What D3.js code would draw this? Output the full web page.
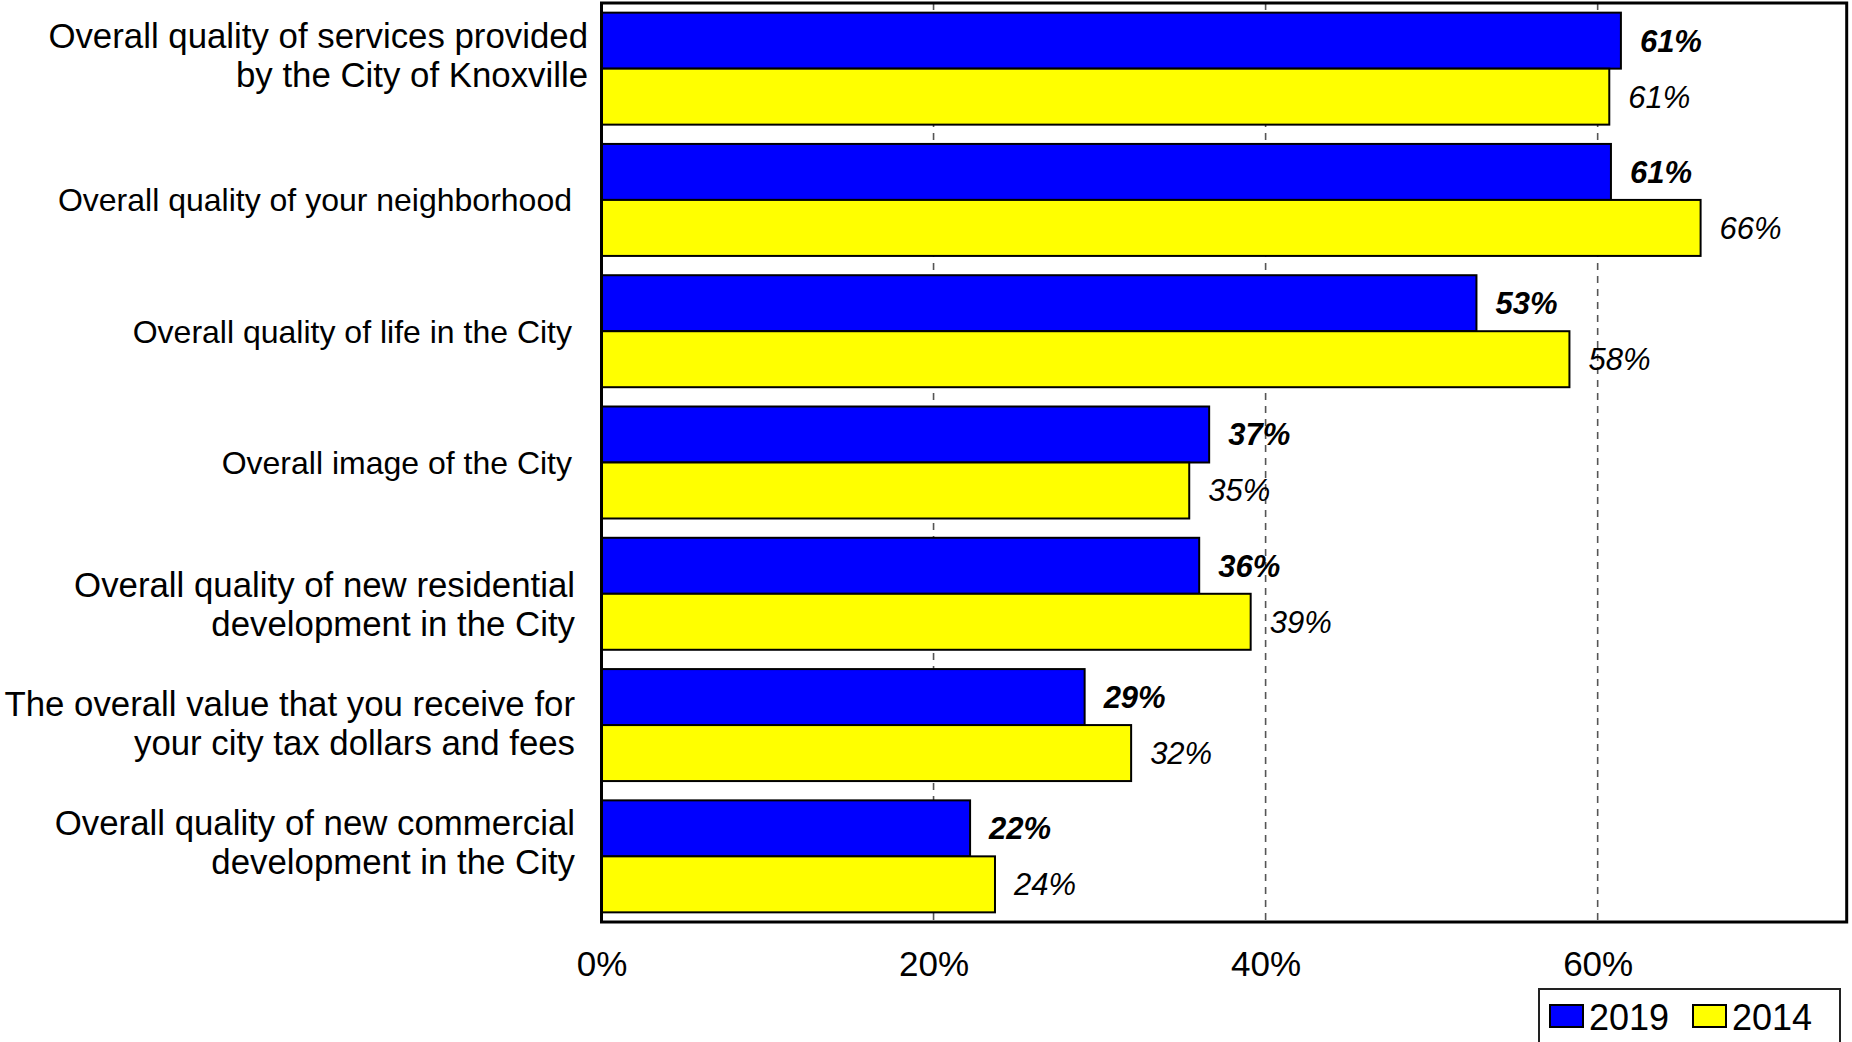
<!DOCTYPE html>
<html>
<head>
<meta charset="utf-8">
<script src="https://cdn.jsdelivr.net/npm/d3@7"></script>
<style>
  html, body { margin: 0; padding: 0; background: #fff; }
  svg { display: block; font-family: "Liberation Sans", Arial, sans-serif; }
</style>
</head>
<body>
<svg id="chart" width="1852" height="1042"></svg>
<script>
// ---- data ----
const categories = [
  ["Overall quality of services provided", "by the City of Knoxville"],
  ["Overall quality of your neighborhood"],
  ["Overall quality of life in the City"],
  ["Overall image of the City"],
  ["Overall quality of new residential", "development in the City"],
  ["The overall value that you receive for", "your city tax dollars and fees"],
  ["Overall quality of new commercial", "development in the City"]
];
const seriesNames = ["2019", "2014"];
const values2019 = [61.4, 60.8, 52.7, 36.6, 36.0, 29.1, 22.2];
const values2014 = [60.7, 66.2, 58.3, 35.4, 39.1, 31.9, 23.7];
const xTicks = [0, 20, 40, 60];

// ---- layout / style ----
const W = 1852, H = 1042;
const plot = { left: 601.5, right: 1846.7, top: 3, bottom: 922 };
const colors = { "2019": "#0000FF", "2014": "#FFFF00" };
// per-label nudges [dx, dy] of the category text block
const labelNudge = [[13, -14], [-3, 0], [-3, 0], [-3, 0], [0, 10], [0, -2], [0, -14]];

const svg = d3.select("#chart");

const x = d3.scaleLinear().domain([0, 75]).range([plot.left, plot.right]);
const y = d3.scaleBand()
  .domain(d3.range(categories.length))
  .range([plot.top, plot.bottom])
  .paddingInner(0.147)
  .paddingOuter(0.0735);
const ySub = d3.scaleBand().domain(seriesNames).range([0, y.bandwidth()]);

// gridlines
svg.append("g").selectAll("line")
  .data(xTicks.filter(t => t > 0))
  .join("line")
  .attr("x1", d => x(d)).attr("x2", d => x(d))
  .attr("y1", plot.top).attr("y2", plot.bottom)
  .attr("stroke", "#555")
  .attr("stroke-width", 1.6)
  .attr("stroke-dasharray", "7,6");

// bars
const rows = categories.map((c, i) => ({ i, vals: [
  { s: "2019", v: values2019[i] },
  { s: "2014", v: values2014[i] }
]}));

const groups = svg.append("g").selectAll("g")
  .data(rows)
  .join("g")
  .attr("transform", d => `translate(0,${y(d.i)})`);

groups.selectAll("rect")
  .data(d => d.vals)
  .join("rect")
  .attr("x", x(0))
  .attr("y", d => ySub(d.s))
  .attr("width", d => x(d.v) - x(0))
  .attr("height", ySub.bandwidth())
  .attr("fill", d => colors[d.s])
  .attr("stroke", "#000")
  .attr("stroke-width", 2);

groups.selectAll("text")
  .data(d => d.vals)
  .join("text")
  .attr("x", d => x(d.v) + 19)
  .attr("y", d => ySub(d.s) + ySub.bandwidth() / 2 + 11)
  .attr("font-size", 31)
  .attr("font-style", "italic")
  .attr("font-weight", d => d.s === "2019" ? "bold" : "normal")
  .attr("fill", "#000")
  .text(d => Math.round(d.v) + "%");

// frame
svg.append("rect")
  .attr("x", plot.left).attr("y", plot.top)
  .attr("width", plot.right - plot.left)
  .attr("height", plot.bottom - plot.top)
  .attr("fill", "none")
  .attr("stroke", "#000")
  .attr("stroke-width", 3);

// x axis labels
const xAxis = d3.axisBottom(x)
  .tickValues(xTicks)
  .tickSize(0)
  .tickPadding(29)
  .tickFormat(d => d + "%");
const gx = svg.append("g")
  .attr("transform", `translate(0,${plot.bottom})`)
  .call(xAxis);
gx.select(".domain").remove();
gx.selectAll("text")
  .attr("font-size", 35)
  .attr("font-family", "\"Liberation Sans\", Arial, sans-serif")
  .attr("fill", "#000");

// category labels
const labelRight = 575;
const lineGap = 39;
categories.forEach((lines, i) => {
  const fs = lines.length > 1 ? 34.8 : 32;
  const center = y(i) + y.bandwidth() / 2 + labelNudge[i][1];
  const firstCenter = center - (lines.length - 1) * lineGap / 2;
  const t = svg.append("text")
    .attr("text-anchor", "end")
    .attr("font-size", fs)
    .attr("fill", "#000");
  lines.forEach((ln, j) => {
    t.append("tspan")
      .attr("x", labelRight + labelNudge[i][0])
      .attr("y", firstCenter + j * lineGap + fs * 0.36)
      .text(ln);
  });
});

// legend
const lg = svg.append("g");
lg.append("rect")
  .attr("x", 1539).attr("y", 989)
  .attr("width", 301).attr("height", 70)
  .attr("fill", "#fff")
  .attr("stroke", "#222")
  .attr("stroke-width", 2);
const legendX = [1550, 1693];
seriesNames.forEach((s, k) => {
  lg.append("rect")
    .attr("x", legendX[k]).attr("y", 1005)
    .attr("width", 33).attr("height", 22)
    .attr("fill", colors[s])
    .attr("stroke", "#000")
    .attr("stroke-width", 2);
  lg.append("text")
    .attr("x", legendX[k] + 39).attr("y", 1029.5)
    .attr("font-size", 36)
    .attr("fill", "#000")
    .text(s);
});
</script>
</body>
</html>
